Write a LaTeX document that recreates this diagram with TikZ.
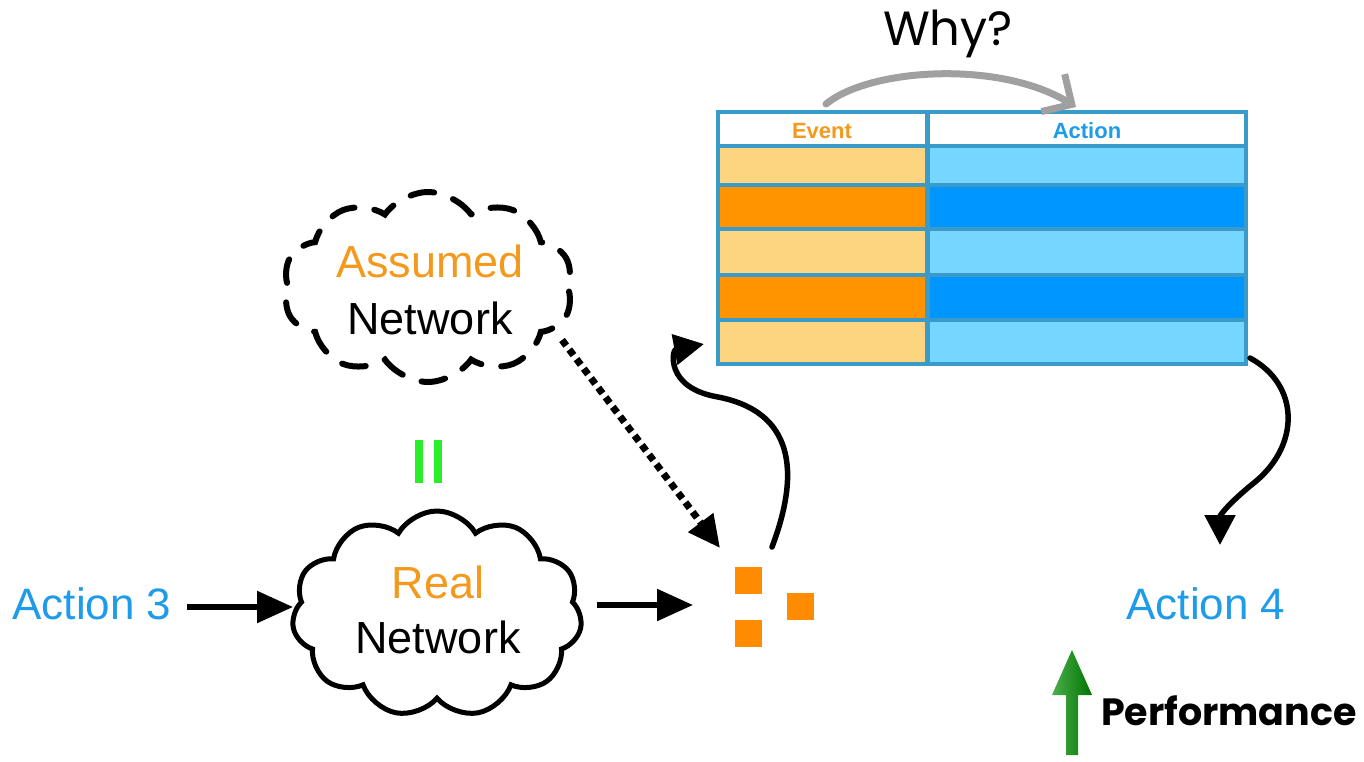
\documentclass[tikz,border=0pt]{standalone}
\usepackage{fontspec}
\setmainfont{Liberation Sans}
\newfontfamily\handfont{Poppins}
\usetikzlibrary{shapes.symbols,arrows.meta,calc}
\definecolor{evlight}{HTML}{FDD47F}
\definecolor{evdark}{HTML}{FF9300}
\definecolor{aclight}{HTML}{76D6FF}
\definecolor{acdark}{HTML}{0096FF}
\definecolor{tborder}{HTML}{3A9BCB}
\definecolor{txtorange}{HTML}{F39A1E}
\definecolor{txtblue}{HTML}{1E9BE9}
\definecolor{sqorange}{HTML}{FF8C00}
\definecolor{eqgreen}{HTML}{2AEE2A}
\definecolor{whygray}{HTML}{A0A0A0}
\tikzset{
  bigtext/.style={font=\fontsize{45}{50}\selectfont, align=center, inner sep=0},
  conn/.style={line width=5.5, -{Triangle[length=36,width=31]}},
  sqbox/.style={fill=sqorange, minimum size=27, inner sep=0},
}
\begin{document}
\begin{tikzpicture}[x=1pt,y=-1pt]
\useasboundingbox (0,0) rectangle (1364,761);

% table
\node[fill=tborder, minimum width=532, minimum height=256, inner sep=0] (table) at (982,238) {};
\fill[white]   (720,114) rectangle (925,144);
\fill[white]   (930,114) rectangle (1244,144);
\fill[evlight] (720,148) rectangle (925,183);
\fill[aclight] (930,148) rectangle (1244,183);
\fill[evdark]  (720,187) rectangle (925,227);
\fill[acdark]  (930,187) rectangle (1244,227);
\fill[evlight] (720,231) rectangle (925,273);
\fill[aclight] (930,231) rectangle (1244,273);
\fill[evdark]  (720,277) rectangle (925,318);
\fill[acdark]  (930,277) rectangle (1244,318);
\fill[evlight] (720,322) rectangle (925,362);
\fill[aclight] (930,322) rectangle (1244,362);
\node[font=\bfseries\fontsize{22}{24}\selectfont, text=txtorange] (event) at (822,131) {Event};
\node[font=\bfseries\fontsize{22}{24}\selectfont, text=txtblue] (action) at (1087,131) {Action};

% Why?
\node[font=\handfont\fontsize{48}{52}\selectfont] (why) at (948,34) {Why?};
\coordinate (wstart) at (826,104);
\coordinate (wend) at (1076,107);
\draw[whygray, line width=7, line cap=round, -{Straight Barb[length=22,width=44,line width=7]}]
  (wstart) .. controls (870,68) and (1000,60) .. (wend);

% Assumed network cloud
\node[cloud, cloud puffs=10, cloud puff arc=110, draw, dash pattern=on 24 off 20, line width=6, line cap=round,
      minimum width=290, minimum height=190, inner sep=0] (assumed) at (428,287) {};
\node[bigtext, text=txtorange] (assumedt) at (430,261) {Assumed};
\node[bigtext] (assumedn) at (430,318) {Network};

% equals
\fill[eqgreen] (415,440) rectangle (423,483);
\fill[eqgreen] (434,440) rectangle (442,483);

% Real network cloud
\node[cloud, cloud puffs=11, cloud puff arc=120, cloud ignores aspect, draw, line width=5,
      minimum width=290, minimum height=206, inner sep=0] (real) at (437,614) {};
\node[bigtext, text=txtorange] (realt) at (438,582) {Real};
\node[bigtext] (realn) at (438,637) {Network};

% Action 3 / 4
\node[bigtext, text=txtblue, font=\fontsize{44}{48}\selectfont] (a3) at (92,604) {Action 3};
\node[bigtext, text=txtblue, font=\fontsize{44}{48}\selectfont] (a4) at (1206,604) {Action 4};

% packets
\node[sqbox] (p1) at (748,580) {};
\node[sqbox] (p2) at (800,606) {};
\node[sqbox] (p3) at (748,633) {};

% arrows
\coordinate (a3e) at (187,607);
\coordinate (rin) at (293,607);
\draw[conn] (a3e) -- (rin);
\coordinate (rout) at (597,605);
\coordinate (pin) at (693,605);
\draw[conn] (rout) -- (pin);

\coordinate (dstart) at (562,340);
\coordinate (dend) at (720,548);
\draw[line width=7, dash pattern=on 7 off 5, -{Triangle[length=32,width=30]}] (dstart) -- (dend);
\coordinate (upstart) at (772,547);
\coordinate (upend) at (704,344);
\draw[line width=5.5, line cap=round, -{Triangle[length=30,width=30]}]
   (upstart) .. controls (805,460) and (785,410) .. (718,397)
   .. controls (665,388) and (672,350) .. (upend);
\coordinate (tout) at (1250,358);
\coordinate (a4in) at (1220,545);
\draw[line width=5.5, line cap=round, -{Triangle[length=30,width=30]}]
   (tout) .. controls (1300,385) and (1300,445) .. (1255,482)
   .. controls (1230,502) and (1220,515) .. (a4in);

% performance
\shade[left color=green!55!black!70!white, right color=green!45!black]
  (1066,755) -- (1066,695) -- (1052,695) -- (1072,650) -- (1092,695) -- (1078,695) -- (1078,755) -- cycle;
\node[font=\handfont\bfseries\fontsize{38}{42}\selectfont, anchor=west, inner sep=0] (perf) at (1101,711) {Performance};
\end{tikzpicture}
\end{document}
